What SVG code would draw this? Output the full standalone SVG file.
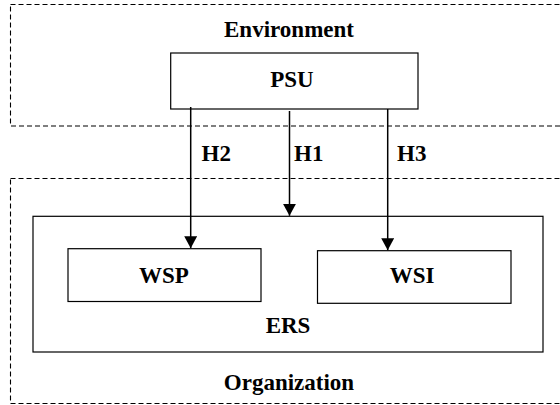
<svg xmlns="http://www.w3.org/2000/svg" width="560" height="405" viewBox="0 0 560 405">
<style>
.dash{fill:none;stroke:#000;stroke-width:1.1;stroke-dasharray:5 3}
.box{fill:#fff;stroke:#000;stroke-width:1.2}
text{font-family:'Liberation Serif','Times New Roman',Tinos,'DejaVu Serif',serif;font-weight:700;font-size:23px;fill:#000}
.c{text-anchor:middle}
.edge{stroke:#000;stroke-width:1.5;fill:none;marker-end:url(#ah)}
</style>
<defs>
<marker id="ah" markerUnits="userSpaceOnUse" markerWidth="14" markerHeight="13" refX="12" refY="6.5" orient="auto">
<path d="M0,0 L12,6.5 L0,13 Z" fill="#000"/>
</marker>
</defs>
<g id="environment">
<rect class="dash" x="10.5" y="4.5" width="570" height="121.5"/>
<text class="c" x="289" y="37.3">Environment</text>
</g>
<g id="organization">
<rect class="dash" x="10.5" y="178.5" width="570" height="225"/>
<text class="c" x="289" y="390">Organization</text>
</g>
<g id="psu">
<rect class="box" x="170.7" y="53" width="247.3" height="56"/>
<text class="c" x="292" y="87.3">PSU</text>
</g>
<g id="ers">
<rect class="box" x="33" y="216.3" width="510" height="135.7"/>
<text class="c" x="288" y="333">ERS</text>
</g>
<g id="wsp">
<rect class="box" x="68" y="248.7" width="193" height="52.8"/>
<text class="c" x="164" y="283.3">WSP</text>
</g>
<g id="wsi">
<rect class="box" x="317.5" y="250.7" width="193.5" height="52.6"/>
<text class="c" x="412" y="283.3">WSI</text>
</g>
<g id="connectors">
<line class="edge" x1="190.7" y1="107" x2="190.7" y2="248.2"/>
<line class="edge" x1="289.5" y1="111" x2="289.5" y2="215.8"/>
<line class="edge" x1="387.7" y1="109" x2="387.7" y2="250.2"/>
<text x="201.5" y="160.7">H2</text>
<text x="294" y="160.7">H1</text>
<text x="397" y="160.7">H3</text>
</g>
</svg>
